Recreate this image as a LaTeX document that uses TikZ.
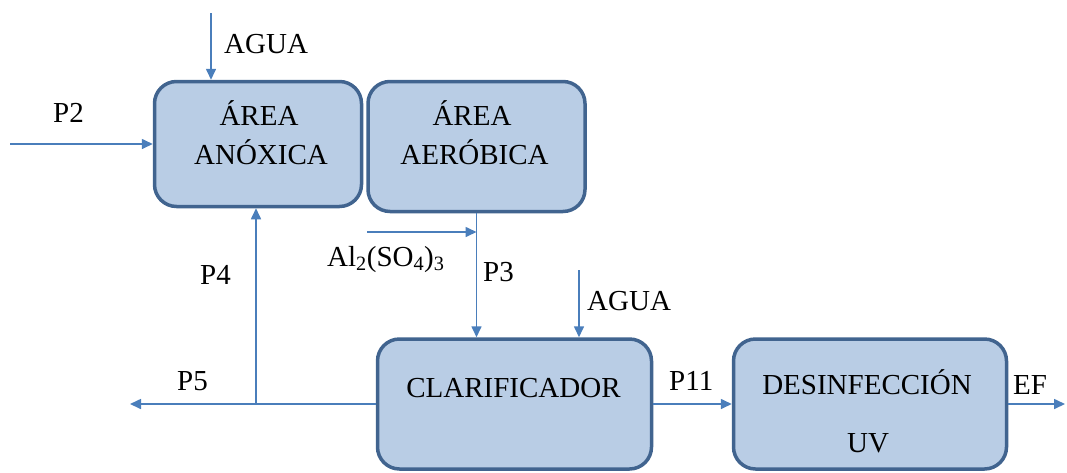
\documentclass[tikz,border=0pt]{standalone}
\usepackage{fontspec}
\setmainfont{LiberationSerif}[Extension=.ttf, UprightFont=*-Regular, BoldFont=*-Bold, ItalicFont=*-Italic, BoldItalicFont=*-BoldItalic]
\usepackage{tikz}
\usetikzlibrary{arrows.meta}
\definecolor{tankfill}{HTML}{B9CDE5}
\definecolor{tankline}{HTML}{41648F}
\definecolor{flowline}{HTML}{4A7EBB}

\begin{document}
\begin{tikzpicture}[
    x=1pt, y=-1pt,
    font=\rmfamily\fontsize{29}{33}\selectfont,
    tank/.style={draw=tankline, fill=tankfill, line width=3.5pt, rounded corners=22pt, inner sep=0pt},
    flow/.style={draw=flowline, line width=1.6pt, -{Triangle[length=11pt, width=10pt]}},
    tag/.style={inner sep=0pt, anchor=base west},
    txt/.style={inner sep=0pt, anchor=base}
    ]
    \useasboundingbox (0, 0) rectangle (1067, 472);

    % Tanks
    \node[tank, minimum width=207pt, minimum height=125pt] (anox) at (258, 144) {};
    \node[tank, minimum width=217pt, minimum height=130pt] (aerob) at (476.5, 146.5) {};
    \node[tank, minimum width=274pt, minimum height=130pt] (clar) at (514.5, 404) {};
    \node[tank, minimum width=273pt, minimum height=130pt] (desinf) at (870, 404) {};

    % Tank texts
    \node[txt] (anoxA) at (259, 125) {ÁREA};
    \node[txt] (anoxB) at (261, 164) {ANÓXICA};
    \node[txt] (aerobA) at (472, 125) {ÁREA};
    \node[txt] (aerobB) at (474.5, 164) {AERÓBICA};
    \node[txt] (clarA) at (513.5, 397) {CLARIFICADOR};
    \node[txt] (desinfA) at (867, 394) {DESINFECCIÓN};
    \node[txt] (desinfB) at (868, 452) {UV};

    % Free ends
    \coordinate (aguaA) at (211, 13);
    \coordinate (p2in) at (10, 144);
    \coordinate (alin) at (367, 232);
    \coordinate (aguaB) at (579, 270);
    \coordinate (p5out) at (130, 404);
    \coordinate (j4) at (256, 404);
    \coordinate (efout) at (1065, 404);

    % Streams
    \draw[flow] (aguaA) -- (aguaA |- anox.north);
    \draw[flow] (p2in) -- (anox.west);
    \draw[flow] (clar.west) -- (p5out);
    \draw[flow] (j4) -- (j4 |- anox.south);
    \draw[flow] (alin) -- (alin -| aerob.south);
    \draw[flow] (aerob.south) -- (aerob.south |- clar.north);
    \draw[flow] (aguaB) -- (aguaB |- clar.north);
    \draw[flow] (clar.east) -- (desinf.west);
    \draw[flow] (desinf.east) -- (efout);

    % Stream labels
    \node[tag] (lAguaA) at (224, 53) {AGUA};
    \node[tag] (lP2) at (53, 122) {P2};
    \node[tag] (lAl) at (327, 266) {Al\textsubscript{2}(SO\textsubscript{4})\textsubscript{3}};
    \node[tag] (lP3) at (483, 281) {P3};
    \node[tag] (lP4) at (200, 284) {P4};
    \node[tag] (lAguaB) at (587, 310) {AGUA};
    \node[tag] (lP5) at (177, 390) {P5};
    \node[tag] (lP11) at (669, 390) {P11};
    \node[tag] (lEF) at (1013, 394) {EF};
\end{tikzpicture}
\end{document}
